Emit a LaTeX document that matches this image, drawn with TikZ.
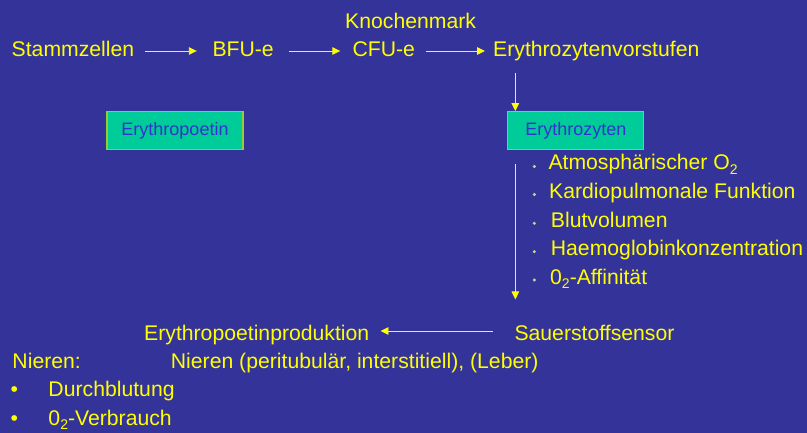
\documentclass[tikz,border=0pt]{standalone}
\usepackage{fontspec}
\setmainfont{Liberation Sans}
\usetikzlibrary{arrows.meta}
\definecolor{bg}{HTML}{333399}
\definecolor{txt}{HTML}{FFFF00}
\definecolor{boxfill}{HTML}{00CC99}
\definecolor{boxline}{HTML}{99CC33}
\definecolor{boxtxt}{HTML}{3333CC}
\definecolor{listdot}{HTML}{CCCC99}
\newcommand{\subtwo}{\raisebox{-4.5pt}{\fontsize{14}{14}\selectfont 2}}
\tikzset{
  lbl/.style={anchor=base west, inner sep=0pt, text=txt, font=\fontsize{21.2}{24}\selectfont},
  boxnode/.style={draw=boxline, line width=1.3pt, fill=boxfill, text=boxtxt,
    minimum width=136pt, minimum height=38pt, inner sep=0pt, font=\fontsize{18}{20}\selectfont},
  arr/.style={draw=txt, line width=0.9pt, -{Triangle[length=8pt,width=7.5pt]}},
  ldot/.style={fill=listdot, draw=none},
}
\begin{document}
\begin{tikzpicture}[x=1pt,y=-1pt]
\fill[bg] (0,0) rectangle (807,433);
\useasboundingbox (0,0) rectangle (807,433);

% top row
\node[lbl] (knochen) at (345,29) {Knochenmark};
\node[lbl] (stamm) at (11.5,57) {Stammzellen};
\node[lbl] (bfu) at (212.3,57) {BFU-e};
\node[lbl] (cfu) at (352.3,57) {CFU-e};
\node[lbl] (vorst) at (493,57) {Erythrozytenvorstufen};

\draw[arr] ([xshift=11pt,yshift=6pt]stamm.base east) -- ([xshift=-15.5pt,yshift=6pt]bfu.base west);
\draw[arr] ([xshift=15pt,yshift=6pt]bfu.base east) -- ([xshift=-12pt,yshift=6pt]cfu.base west);
\draw[arr] ([xshift=11pt,yshift=6pt]cfu.base east) -- ([xshift=-8pt,yshift=6pt]vorst.base west);

% boxes
\node[boxnode] (epo) at (175,130.8) {Erythropoetin};
\node[boxnode] (ezyt) at (575.8,130.8) {Erythrozyten};

\coordinate (c1) at ([xshift=22.3pt,yshift=-16pt]vorst.base west);
\draw[arr] (c1) -- (c1 |- ezyt.north);

\coordinate (c2) at ([xshift=8.2pt,yshift=-14pt]ezyt.south west);
\coordinate (c3) at ([yshift=-135pt]c2);
\draw[arr] (c2) -- (c3);

% list
\node[lbl] (l1) at (548.3,170) {Atmosphärischer O\subtwo};
\node[lbl] (l2) at (549,199) {Kardiopulmonale Funktion};
\node[lbl] (l3) at (550.7,227.3) {Blutvolumen};
\node[lbl] (l4) at (550.7,256) {Haemoglobinkonzentration};
\node[lbl] (l5) at (550,284.3) {0\subtwo-Affinität};
\fill[ldot] (534.3,166.5) circle (1.7);
\fill[ldot] (534.3,194.5) circle (1.7);
\fill[ldot] (534.3,223.3) circle (1.7);
\fill[ldot] (534.3,251.7) circle (1.7);
\fill[ldot] (534.3,280) circle (1.7);

% bottom
\node[lbl] (prod) at (144,341) {Erythropoetinproduktion};
\node[lbl] (sensor) at (514.3,341) {Sauerstoffsensor};
\draw[arr] ([xshift=-21.6pt,yshift=10pt]sensor.base west) -- ([xshift=11pt,yshift=10pt]prod.base east);

\node[lbl] (nieren) at (12.3,368.3) {Nieren:};
\node[lbl] (nierenort) at (170.7,368.3) {Nieren (peritubulär, interstitiell), (Leber)};
\node[lbl] (b1) at (10.3,396.7) {•};
\node[lbl] (durch) at (48.3,396.7) {Durchblutung};
\node[lbl] (b2) at (10.3,425) {•};
\node[lbl] (verb) at (48.3,425) {0\subtwo-Verbrauch};
\end{tikzpicture}
\end{document}
